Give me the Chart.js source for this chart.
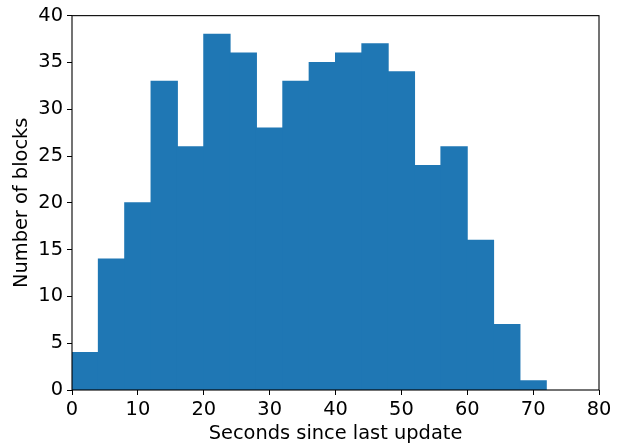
<!DOCTYPE html>
<html>
<head>
<meta charset="utf-8">
<script src="https://cdn.jsdelivr.net/npm/chart.js@4/dist/chart.umd.min.js"></script>
<style>
  html, body { margin: 0; padding: 0; background: #fff; }
  #wrap { width: 623px; height: 444px; }
</style>
</head>
<body>
<div id="wrap"><canvas id="c" width="623" height="444"></canvas></div>
<script>
// Histogram of seconds elapsed since the last update, 4-second bins
const binEdges = [0, 4, 8, 12, 16, 20, 24, 28, 32, 36, 40, 44, 48, 52, 56, 60, 64, 68, 72];
const blockCounts = [4, 14, 20, 33, 26, 38, 36, 28, 33, 35, 36, 37, 34, 24, 26, 16, 7, 1];
const xTickValues = [0, 10, 20, 30, 40, 50, 60, 70, 80];
const yTickValues = [0, 5, 10, 15, 20, 25, 30, 35, 40];

const xTitle = 'Seconds since last update';
const yTitle = 'Number of blocks';

const barPoints = blockCounts.map((n, i) => ({
  x: (binEdges[i] + binEdges[i + 1]) / 2,
  y: n
}));

const FONT = 'DejaVu Sans';
const FONT_SIZE = 19.4;

// Full box around the plotting area, drawn over the bars
const frame = {
  id: 'frame',
  afterDatasetsDraw(chart) {
    const { ctx, chartArea: a } = chart;
    ctx.save();
    ctx.strokeStyle = '#000';
    ctx.lineWidth = 1.1;
    ctx.strokeRect(a.left, a.top, a.right - a.left, a.bottom - a.top);
    ctx.restore();
  }
};

new Chart(document.getElementById('c'), {
  type: 'bar',
  data: {
    datasets: [{
      data: barPoints,
      backgroundColor: '#1f77b4',
      borderWidth: 0,
      inflateAmount: 0.5,
      barPercentage: 1.0,
      categoryPercentage: 1.0,
      grouped: false
    }]
  },
  options: {
    responsive: false,
    animation: false,
    devicePixelRatio: 1,
    layout: { padding: { left: 0, right: 24, top: 13, bottom: 0 } },
    plugins: {
      legend: { display: false },
      tooltip: { enabled: false }
    },
    scales: {
      x: {
        type: 'linear',
        min: 0,
        max: 80,
        offset: false,
        afterBuildTicks(s) { s.ticks = xTickValues.map(v => ({ value: v })); },
        afterFit(s) { s.height = 54; },
        grid: {
          offset: false,
          drawOnChartArea: false,
          drawTicks: true,
          tickLength: 5,
          tickWidth: 1,
          color: '#000'
        },
        border: { display: false },
        ticks: {
          color: '#000',
          font: { family: FONT, size: FONT_SIZE },
          padding: 3,
          maxRotation: 0,
          autoSkip: false
        },
        title: {
          display: true,
          text: xTitle,
          color: '#000',
          font: { family: FONT, size: FONT_SIZE, lineHeight: 1 },
          padding: { top: 0, bottom: 0 }
        }
      },
      y: {
        type: 'linear',
        min: 0,
        max: 40,
        afterBuildTicks(s) { s.ticks = yTickValues.map(v => ({ value: v })); },
        afterFit(s) { s.width = 72; },
        grid: {
          drawOnChartArea: false,
          drawTicks: true,
          tickLength: 5,
          tickWidth: 1,
          color: '#000'
        },
        border: { display: false },
        ticks: {
          color: '#000',
          font: { family: FONT, size: FONT_SIZE },
          padding: 4,
          autoSkip: false
        },
        title: {
          display: true,
          text: yTitle,
          color: '#000',
          font: { family: FONT, size: FONT_SIZE, lineHeight: 1 },
          padding: { top: 12, bottom: 0 }
        }
      }
    }
  },
  plugins: [frame]
});
</script>
</body>
</html>
